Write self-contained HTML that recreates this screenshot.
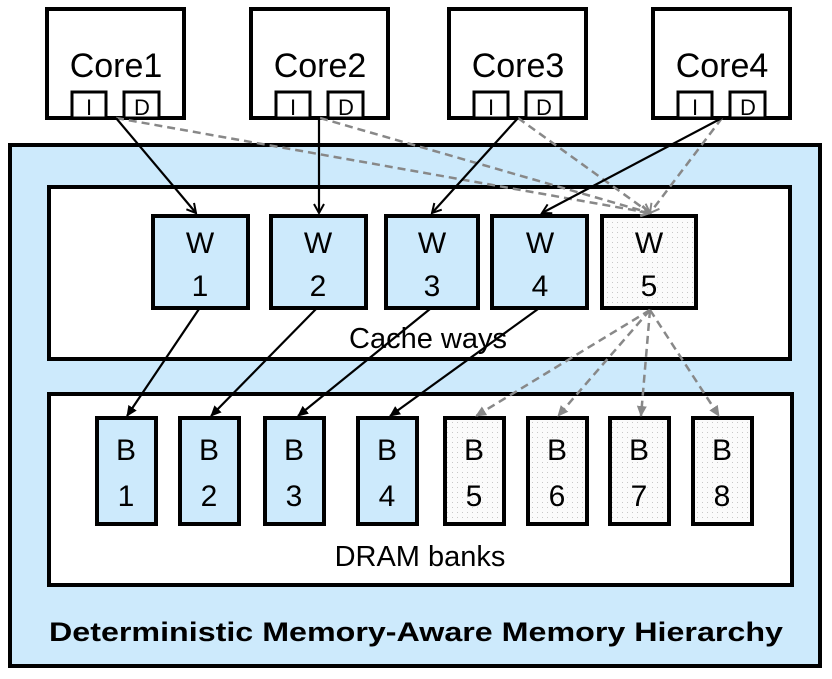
<!DOCTYPE html>
<html><head><meta charset="utf-8"><style>
html,body{margin:0;padding:0;background:#fff;}
svg{display:block;}
text{font-family:"Liberation Sans",sans-serif;}
</style></head><body>
<svg width="832" height="679" viewBox="0 0 832 679" xmlns="http://www.w3.org/2000/svg">
<defs>
<pattern id="dots" width="5" height="5" patternUnits="userSpaceOnUse">
<rect width="5" height="5" fill="#fbfbfb"/><rect x="2" y="2" width="1" height="1" fill="#c8c8c8"/>
</pattern>
<marker id="open" markerWidth="12" markerHeight="12" refX="10" refY="6" orient="auto" markerUnits="userSpaceOnUse">
<path d="M1,1 L10,6 L1,11" fill="none" stroke="#000" stroke-width="2"/></marker>
<marker id="openg" markerWidth="12" markerHeight="12" refX="10" refY="6" orient="auto" markerUnits="userSpaceOnUse">
<path d="M1,1 L10,6 L1,11" fill="none" stroke="#888" stroke-width="2"/></marker>
<marker id="fill" markerWidth="12" markerHeight="12" refX="10" refY="6" orient="auto" markerUnits="userSpaceOnUse">
<path d="M0,1 L11,6 L0,11 Z" fill="#000"/></marker>
<marker id="fillg" markerWidth="12" markerHeight="12" refX="10" refY="6" orient="auto" markerUnits="userSpaceOnUse">
<path d="M0,1 L11,6 L0,11 Z" fill="#888"/></marker>
</defs>
<g stroke="#000" stroke-width="4">
<rect x="10" y="145" width="810" height="521" fill="#cdeafc"/>
<rect x="49" y="187" width="741" height="172" fill="#fff"/>
<rect x="49" y="394" width="743" height="191" fill="#fff"/>
<rect x="47" y="9" width="137" height="109" fill="#fff"/>
<rect x="251" y="9" width="137" height="109" fill="#fff"/>
<rect x="449" y="9" width="137" height="109" fill="#fff"/>
<rect x="653" y="9" width="137" height="109" fill="#fff"/>
</g>
<g stroke="#000" stroke-width="3" fill="#fff">
<rect x="72" y="92" width="34" height="26"/><rect x="124" y="92" width="35" height="26"/>
<rect x="276" y="92" width="34" height="26"/><rect x="328" y="92" width="35" height="26"/>
<rect x="474" y="92" width="34" height="26"/><rect x="526" y="92" width="35" height="26"/>
<rect x="678" y="92" width="34" height="26"/><rect x="730" y="92" width="35" height="26"/>
</g>
<g font-size="34" text-anchor="middle">
<text x="116" y="77">Core1</text><text x="320" y="77">Core2</text>
<text x="518" y="77">Core3</text><text x="722" y="77">Core4</text>
</g>
<g font-size="22" text-anchor="middle">
<text x="89" y="115">I</text><text x="142" y="115">D</text>
<text x="293" y="115">I</text><text x="346" y="115">D</text>
<text x="491" y="115">I</text><text x="544" y="115">D</text>
<text x="695" y="115">I</text><text x="748" y="115">D</text>
</g>
<g stroke="#000" stroke-width="4">
<rect x="153" y="216" width="95" height="92" fill="#cdeafc"/>
<rect x="271" y="216" width="95" height="92" fill="#cdeafc"/>
<rect x="386" y="216" width="92" height="92" fill="#cdeafc"/>
<rect x="492" y="216" width="95" height="92" fill="#cdeafc"/>
<rect x="602" y="216" width="94" height="92" fill="url(#dots)"/>
</g>
<g font-size="30" text-anchor="middle">
<text x="200" y="253">W</text><text x="200" y="296">1</text>
<text x="318" y="253">W</text><text x="318" y="296">2</text>
<text x="432" y="253">W</text><text x="432" y="296">3</text>
<text x="540" y="253">W</text><text x="540" y="296">4</text>
<text x="649" y="253">W</text><text x="649" y="296">5</text>
<text x="428" y="348" font-size="29">Cache ways</text>
</g>
<g stroke="#000" stroke-width="4">
<rect x="97" y="418" width="59" height="106" fill="#cdeafc"/>
<rect x="180" y="418" width="59" height="106" fill="#cdeafc"/>
<rect x="265" y="418" width="59" height="106" fill="#cdeafc"/>
<rect x="358" y="418" width="59" height="106" fill="#cdeafc"/>
<rect x="445" y="418" width="59" height="106" fill="url(#dots)"/>
<rect x="528" y="418" width="59" height="106" fill="url(#dots)"/>
<rect x="610" y="418" width="59" height="106" fill="url(#dots)"/>
<rect x="693" y="418" width="59" height="106" fill="url(#dots)"/>
</g>
<g font-size="30" text-anchor="middle">
<text x="126" y="460">B</text><text x="126" y="506">1</text>
<text x="209" y="460">B</text><text x="209" y="506">2</text>
<text x="294" y="460">B</text><text x="294" y="506">3</text>
<text x="387" y="460">B</text><text x="387" y="506">4</text>
<text x="474" y="460">B</text><text x="474" y="506">5</text>
<text x="557" y="460">B</text><text x="557" y="506">6</text>
<text x="639" y="460">B</text><text x="639" y="506">7</text>
<text x="722" y="460">B</text><text x="722" y="506">8</text>
<text x="420" y="566" font-size="29">DRAM banks</text>
<text x="416" y="641" font-size="27" font-weight="bold" textLength="734" lengthAdjust="spacingAndGlyphs">Deterministic Memory-Aware Memory Hierarchy</text>
</g>
<g stroke="#888" stroke-width="2.5" stroke-dasharray="8,5" fill="none" marker-end="url(#openg)">
<line x1="116" y1="118" x2="650" y2="213"/>
<line x1="320" y1="118" x2="650" y2="213"/>
<line x1="518" y1="118" x2="650" y2="213"/>
<line x1="722" y1="118" x2="650" y2="213"/>
</g>
<g stroke="#000" stroke-width="2.2" fill="none" marker-end="url(#open)">
<line x1="116" y1="118" x2="196" y2="213"/>
<line x1="319" y1="118" x2="319" y2="213"/>
<line x1="518" y1="118" x2="432" y2="213"/>
<line x1="722" y1="118" x2="542" y2="213"/>
</g>
<g stroke="#000" stroke-width="2.2" fill="none" marker-end="url(#fill)">
<line x1="199" y1="309" x2="127" y2="416"/>
<line x1="316" y1="309" x2="211" y2="416"/>
<line x1="430" y1="309" x2="298" y2="416"/>
<line x1="538" y1="309" x2="390" y2="416"/>
</g>
<g stroke="#888" stroke-width="2.5" stroke-dasharray="8,5" fill="none" marker-end="url(#fillg)">
<line x1="650" y1="310" x2="476" y2="416"/>
<line x1="650" y1="310" x2="558" y2="416"/>
<line x1="650" y1="310" x2="641" y2="416"/>
<line x1="650" y1="310" x2="719" y2="416"/>
</g>
</svg>
</body></html>
